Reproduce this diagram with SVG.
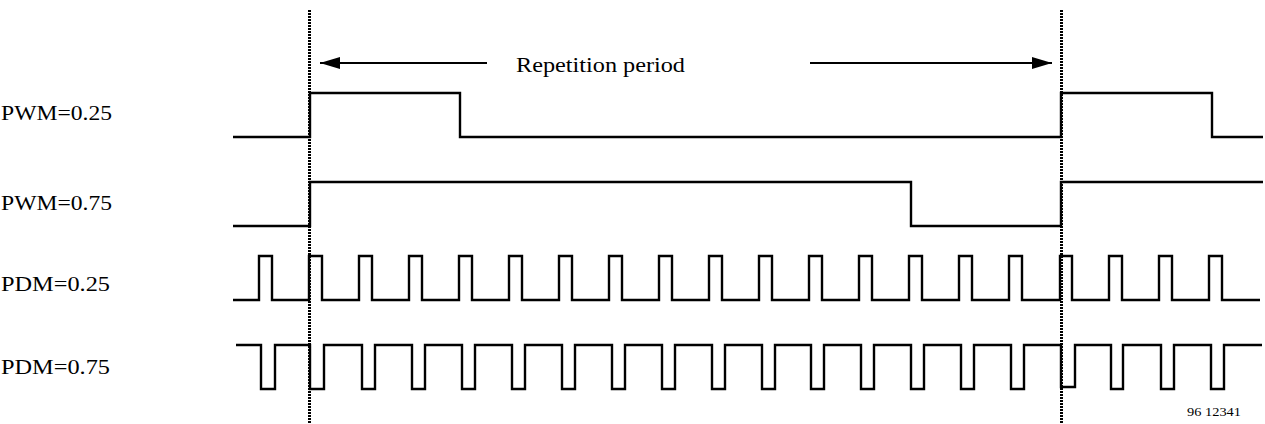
<svg xmlns="http://www.w3.org/2000/svg" width="1265" height="424" viewBox="0 0 1265 424">
<style>
.lbl{font-family:"Liberation Serif","Times New Roman",serif;font-size:20px;fill:#000}
.sig{fill:none;stroke:#000;stroke-width:2.4;stroke-linejoin:miter;stroke-linecap:butt}
.dot{fill:none;stroke:#000;stroke-width:3;stroke-dasharray:2 1}
.arr{fill:none;stroke:#000;stroke-width:2}
</style>
<defs>
<marker id="ah" markerWidth="20" markerHeight="12" refX="20" refY="6" orient="auto" markerUnits="userSpaceOnUse">
<path d="M0,0 L20,6 L0,12 Z" fill="#000"/>
</marker>
</defs>
<rect width="1265" height="424" fill="#fff"/>
<g id="markers">
<line class="dot" x1="309.5" y1="10" x2="309.5" y2="424"/>
<line class="dot" x1="1061.5" y1="10" x2="1061.5" y2="424"/>
</g>
<g id="connectors">
<line class="arr" x1="487" y1="63" x2="320" y2="63" marker-end="url(#ah)"/>
<line class="arr" x1="810" y1="63" x2="1052" y2="63" marker-end="url(#ah)"/>
</g>
<g id="period-label">
<text class="lbl" x="516" y="72" textLength="169" lengthAdjust="spacingAndGlyphs">Repetition period</text>
</g>
<g id="pwm025">
<text class="lbl" x="1" y="120" textLength="111" lengthAdjust="spacingAndGlyphs">PWM=0.25</text>
<path class="sig" d="M233,137 H310 V93 H460 V137 H1061 V93 H1212 V137 H1263"/>
</g>
<g id="pwm075">
<text class="lbl" x="1" y="210" textLength="111" lengthAdjust="spacingAndGlyphs">PWM=0.75</text>
<path class="sig" d="M233,226 H310 V182 H911 V226 H1061 V182 H1263"/>
</g>
<g id="pdm025">
<text class="lbl" x="1" y="291" textLength="109" lengthAdjust="spacingAndGlyphs">PDM=0.25</text>
<path class="sig" d="M233,300 H259 V256 H272 V300 H309 V256 H322 V300 H359 V256 H372 V300 H409 V256 H422 V300 H459 V256 H472 V300 H509 V256 H522 V300 H559 V256 H572 V300 H609 V256 H622 V300 H659 V256 H672 V300 H709 V256 H722 V300 H759 V256 H772 V300 H809 V256 H822 V300 H859 V256 H872 V300 H909 V256 H922 V300 H959 V256 H972 V300 H1009 V256 H1022 V300 H1060 V256 H1072 V300 H1109 V256 H1122 V300 H1159 V256 H1172 V300 H1209 V256 H1222 V300 H1260"/>
</g>
<g id="pdm075">
<text class="lbl" x="1" y="374" textLength="109" lengthAdjust="spacingAndGlyphs">PDM=0.75</text>
<path class="sig" d="M236,345 H261 V389 H275 V345 H310 V389 H324 V345 H362 V389 H375 V345 H412 V389 H425 V345 H462 V389 H475 V345 H512 V389 H525 V345 H562 V389 H575 V345 H612 V389 H625 V345 H662 V389 H675 V345 H712 V389 H725 V345 H762 V389 H775 V345 H811 V389 H824 V345 H861 V389 H874 V345 H911 V389 H924 V345 H961 V389 H974 V345 H1011 V389 H1024 V345 H1061 V387 H1075 V345 H1111 V389 H1123 V345 H1161 V389 H1174 V345 H1211 V389 H1224 V345 H1262"/>
</g>
<g id="figure-id">
<text x="1187" y="416" textLength="54" lengthAdjust="spacingAndGlyphs" style="font-family:'Liberation Serif','Times New Roman',serif;font-size:12px;fill:#000">96 12341</text>
</g>
</svg>
